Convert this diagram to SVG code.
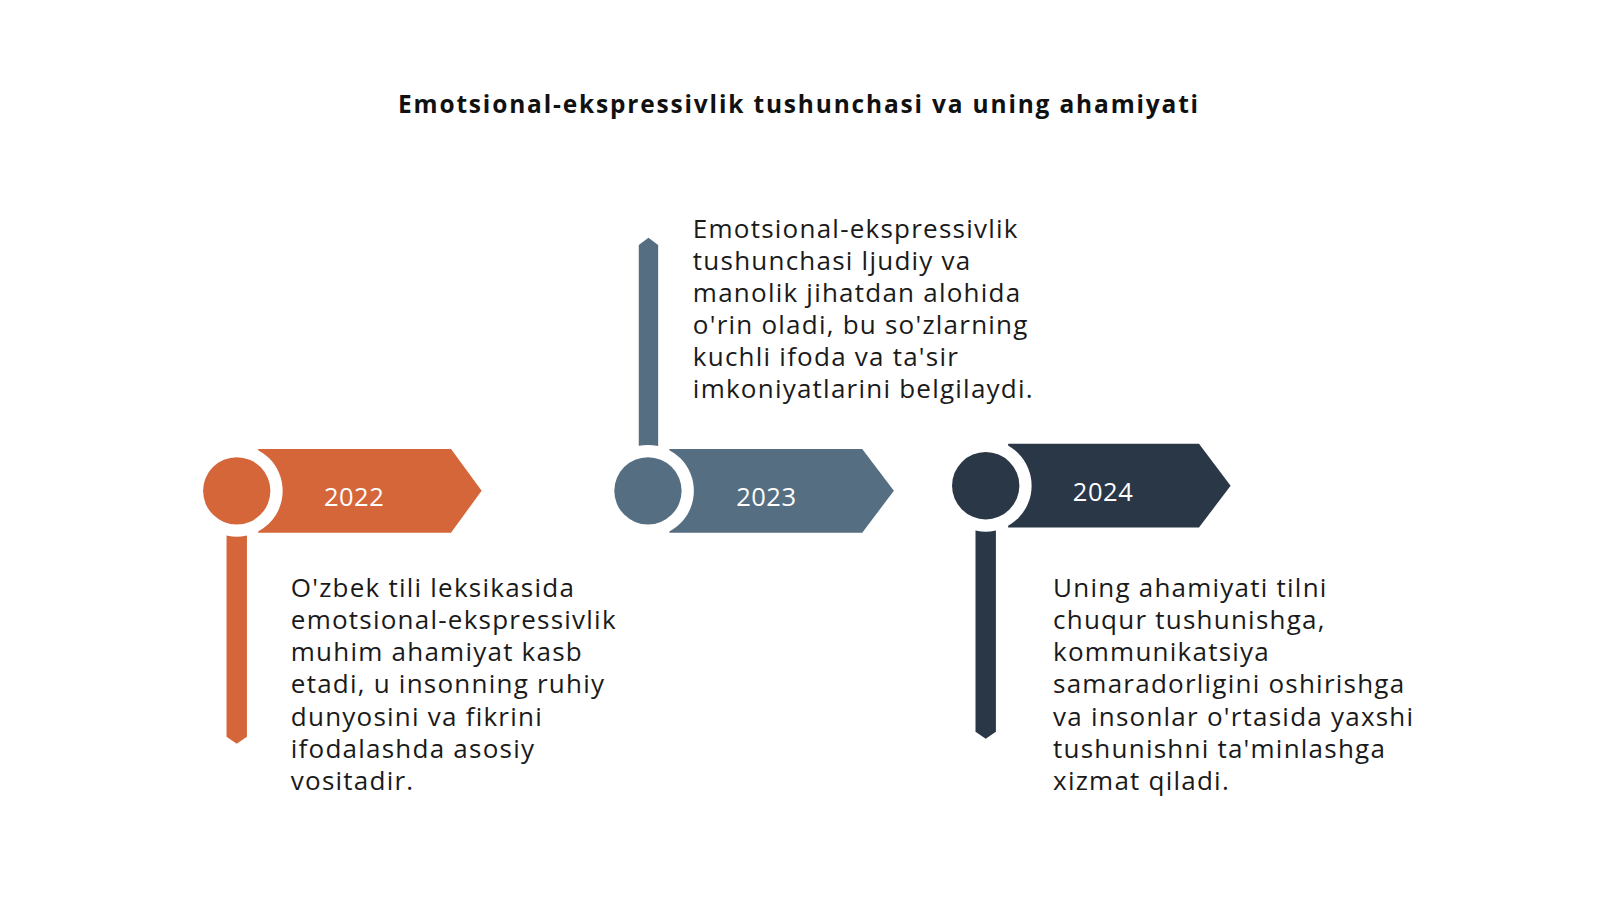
<svg xmlns="http://www.w3.org/2000/svg" width="1600" height="900" viewBox="0 0 1600 900">
<style>
.t{font-family:"Open Sans","DejaVu Sans",sans-serif;font-size:25.5px;letter-spacing:1.2px;fill:#1a1a1a}
.y{font-family:"Open Sans","DejaVu Sans",sans-serif;font-size:25px;letter-spacing:0.5px;fill:#fff;text-anchor:middle}
.h{font-family:"Open Sans","DejaVu Sans",sans-serif;font-size:24px;letter-spacing:1.8px;font-weight:bold;fill:#111;text-anchor:middle}
</style>
<rect width="1600" height="900" fill="#fff"/>
<g transform="scale(1.0204)">
<text class="h" x="783" y="111">Emotsional-ekspressivlik tushunchasi va uning ahamiyati</text>
<g id="connectors">
<path d="M222 522 H242 V722 L232 729 L222 722 Z" fill="#D5663A"/>
<path d="M626 437 H645 V240 L635.5 233 L626 240 Z" fill="#566E82"/>
<path d="M956 518 H976 V717 L966 724 L956 717 Z" fill="#2A3747"/>
</g>
<g id="n2022">
<path d="M253 440 H442 L472 481 L442 522 H253 Z" fill="#D5663A"/>
<circle cx="232" cy="481" r="45" fill="#fff"/>
<circle cx="232" cy="481" r="33" fill="#D5663A"/>
<text class="y" x="347" y="496">2022</text>
<text class="t" x="285" y="585"><tspan x="285">O'zbek tili leksikasida</tspan><tspan x="285" dy="31.5">emotsional-ekspressivlik</tspan><tspan x="285" dy="31.5">muhim ahamiyat kasb</tspan><tspan x="285" dy="31.5">etadi, u insonning ruhiy</tspan><tspan x="285" dy="31.5">dunyosini va fikrini</tspan><tspan x="285" dy="31.5">ifodalashda asosiy</tspan><tspan x="285" dy="31.5">vositadir.</tspan></text>
</g>
<g id="n2023">
<path d="M656 440 H845 L876 481 L845 522 H656 Z" fill="#566E82"/>
<circle cx="635" cy="481" r="45" fill="#fff"/>
<circle cx="635" cy="481" r="33" fill="#566E82"/>
<text class="y" x="751" y="496">2023</text>
<text class="t" x="679" y="233"><tspan x="679">Emotsional-ekspressivlik</tspan><tspan x="679" dy="31.5">tushunchasi ljudiy va</tspan><tspan x="679" dy="31.5">manolik jihatdan alohida</tspan><tspan x="679" dy="31.5">o'rin oladi, bu so'zlarning</tspan><tspan x="679" dy="31.5">kuchli ifoda va ta'sir</tspan><tspan x="679" dy="31.5">imkoniyatlarini belgilaydi.</tspan></text>
</g>
<g id="n2024">
<path d="M988 435 H1175 L1206 476 L1175 517 H988 Z" fill="#2A3747"/>
<circle cx="966" cy="476" r="45" fill="#fff"/>
<circle cx="966" cy="476" r="33" fill="#2A3747"/>
<text class="y" x="1081" y="491">2024</text>
<text class="t" x="1032" y="585"><tspan x="1032">Uning ahamiyati tilni</tspan><tspan x="1032" dy="31.5">chuqur tushunishga,</tspan><tspan x="1032" dy="31.5">kommunikatsiya</tspan><tspan x="1032" dy="31.5">samaradorligini oshirishga</tspan><tspan x="1032" dy="31.5">va insonlar o'rtasida yaxshi</tspan><tspan x="1032" dy="31.5">tushunishni ta'minlashga</tspan><tspan x="1032" dy="31.5">xizmat qiladi.</tspan></text>
</g>
</g>
</svg>
